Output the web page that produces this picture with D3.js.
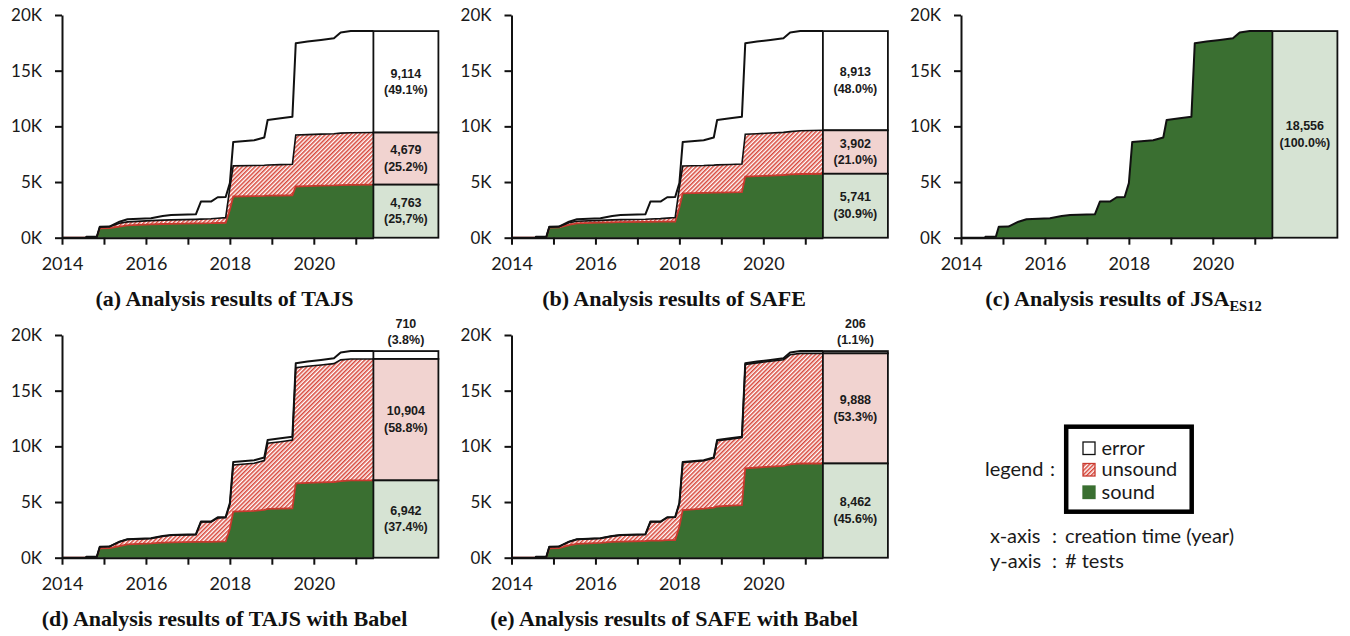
<!DOCTYPE html>
<html><head><meta charset="utf-8">
<script src="https://cdn.jsdelivr.net/npm/d3@7"></script>
<style>body{margin:0;background:#fff;} svg{display:block}</style>
</head><body><svg id="c" width="1350" height="636"></svg>
<script>
// ---- data ----
const dates = [2014.0,2014.57,2014.58,2014.83,2014.9,2015.13,2015.37,2015.56,2016.12,2016.4,2016.6,2017.19,2017.31,2017.55,2017.71,2017.9,2018.0,2018.08,2018.58,2018.82,2018.9,2019.21,2019.49,2019.57,2019.85,2020.17,2020.48,2020.64,2020.88,2021.42];
const total = [0,0,80,80,990,1000,1440,1650,1740,1950,2040,2100,3240,3240,3630,3650,4900,8600,8750,9000,10570,10720,10870,17460,17610,17760,17910,18420,18556,18556];

const soundTAJS   = [0,0,50,50,850,870,1000,1100,1200,1230,1250,1280,1290,1300,1320,1340,2500,3700,3730,3750,3770,3790,3800,4600,4640,4670,4700,4730,4750,4763];
const unsoundTAJS = [0,0,10,10,100,110,300,320,330,350,350,370,380,400,430,460,2000,2750,2750,2750,2760,2770,2790,4620,4620,4630,4640,4660,4670,4679];

const soundSAFE   = [0,0,50,50,900,920,1150,1280,1350,1380,1400,1420,1430,1440,1440,1450,2700,3990,4020,4040,4050,4070,4100,5480,5530,5580,5630,5680,5720,5741];
const unsoundSAFE = [0,0,10,10,50,60,200,200,210,220,220,240,250,270,320,370,1800,2450,2460,2480,2490,2500,2520,3810,3810,3820,3830,3850,3880,3902];

const soundJSA    = total.slice();
const unsoundJSA  = total.map(() => 0);

const soundTAJSBabel   = [0,0,50,50,850,860,1050,1200,1280,1350,1380,1420,1430,1430,1450,1460,2600,4130,4200,4300,4380,4410,4440,6680,6720,6760,6800,6880,6942,6942];
const unsoundTAJSBabel = [0,0,30,30,140,140,390,450,450,580,640,650,1770,1770,2120,2130,2200,4200,4280,4430,5900,6010,6130,10380,10470,10550,10630,10890,10904,10904];

const soundSAFEBabel   = [0,0,50,50,850,860,1100,1250,1340,1420,1450,1500,1540,1540,1580,1590,2800,4280,4400,4500,4600,4680,4730,8030,8100,8180,8250,8380,8462,8462];
const unsoundSAFEBabel = [0,0,30,30,140,140,340,400,400,520,580,590,1680,1680,2030,2040,2070,4270,4300,4440,5900,5960,6060,9330,9400,9460,9530,9840,9888,9888];

// percentage labels [error, unsound, sound] as printed
const pctTAJS = ["49.1%","25.2%","25,7%"];
const pctSAFE = ["48.0%","21.0%","30.9%"];
const pctJSA = ["","","100.0%"];
const pctTAJSBabel = ["3.8%","58.8%","37.4%"];
const pctSAFEBabel = ["1.1%","53.3%","45.6%"];

const yTicks = [0,5000,10000,15000,20000];
const yTickLabels = ["0K","5K","10K","15K","20K"];
const xTicks = [2014,2015,2016,2017,2018,2019,2020,2021];
const xTickLabels = ["2014","","2016","","2018","","2020",""];
const legendLabels = ["error","unsound","sound"];

// ---- layout ----
const panels = [
  {sound:soundTAJS, unsound:unsoundTAJS, pct:pctTAJS, ox:62, base:237.7, cap:["(a) Analysis results of TAJS"]},
  {sound:soundSAFE, unsound:unsoundSAFE, pct:pctSAFE, ox:511.5, base:237.7, cap:["(b) Analysis results of SAFE"]},
  {sound:soundJSA, unsound:unsoundJSA, pct:pctJSA, ox:961, base:237.7, cap:["(c) Analysis results of JSA","ES12"]},
  {sound:soundTAJSBabel, unsound:unsoundTAJSBabel, pct:pctTAJSBabel, ox:62, base:557.7, cap:["(d) Analysis results of TAJS with Babel"]},
  {sound:soundSAFEBabel, unsound:unsoundSAFEBabel, pct:pctSAFEBabel, ox:511.5, base:557.7, cap:["(e) Analysis results of SAFE with Babel"]}
];
const W = 311.4, BW = 65, H = 222.7;
const GREEN = "#3a6f31", LGREEN = "#d6e3d3", PINK = "#f1d3d0", RED = "#c8392e", HATCH = "#d8473b";

const svg = d3.select("#c");
const defs = svg.append("defs");
const pat = defs.append("pattern").attr("id","hatch").attr("patternUnits","userSpaceOnUse")
  .attr("width",3).attr("height",3).attr("patternTransform","rotate(45)");
pat.append("rect").attr("width",3).attr("height",3).attr("fill","#fff");
pat.append("line").attr("x1",0.75).attr("y1",0).attr("x2",0.75).attr("y2",3).attr("stroke",HATCH).attr("stroke-width",1.6);

const x = d3.scaleLinear().domain([2014, 2021.42]).range([0, W]);
const fmt = d3.format(",");

panels.forEach(p => {
  const g = svg.append("g").attr("transform", `translate(${p.ox},${p.base - H})`);
  const y = d3.scaleLinear().domain([0, 20000]).range([H, 0]);
  const rows = dates.map((d,i) => ({d, s:p.sound[i], u:p.sound[i]+p.unsound[i], t:total[i]}));

  g.append("path").datum(rows).attr("fill",GREEN)
    .attr("d", d3.area().x(r=>x(r.d)).y0(y(0)).y1(r=>y(r.s)));
  const hasUnsound = p.unsound.some(v => v > 0);
  if (hasUnsound) {
    g.append("path").datum(rows).attr("fill","url(#hatch)")
      .attr("d", d3.area().x(r=>x(r.d)).y0(r=>y(r.s)).y1(r=>y(r.u)));
    g.append("path").datum(rows).attr("fill","none").attr("stroke",RED).attr("stroke-width",1.8)
      .attr("d", d3.line().x(r=>x(r.d)).y(r=>y(r.s)));
    g.append("path").datum(rows).attr("fill","none").attr("stroke","#111").attr("stroke-width",1.6)
      .attr("d", d3.line().x(r=>x(r.d)).y(r=>y(r.u)));
  }
  g.append("path").datum(rows).attr("fill","none").attr("stroke","#111").attr("stroke-width",2)
    .attr("stroke-linejoin","round").attr("d", d3.line().x(r=>x(r.d)).y(r=>y(r.t)));

  // stacked bar of final counts
  const last = dates.length - 1;
  const sF = p.sound[last], uF = p.unsound[last], tF = total[last], eF = tF - sF - uF;
  const segs = [
    {v:eF, lo:sF+uF, hi:tF, fill:"#fff", pct:p.pct[0]},
    {v:uF, lo:sF, hi:sF+uF, fill:PINK, pct:p.pct[1]},
    {v:sF, lo:0, hi:sF, fill:LGREEN, pct:p.pct[2]}
  ];
  const bx = x(2021.42);
  segs.forEach(s => {
    if (s.v <= 0) return;
    g.append("rect").attr("x",bx).attr("y",y(s.hi)).attr("width",BW).attr("height",y(s.lo)-y(s.hi))
      .attr("fill",s.fill).attr("stroke","#111").attr("stroke-width",1.8);
  });
  segs.forEach(s => {
    if (s.v <= 0) return;
    const h = y(s.lo) - y(s.hi);
    let c1, c2;
    if (h >= 30) { const m = (y(s.lo)+y(s.hi))/2; c1 = m - 8.3; c2 = m + 8.3; }
    else { c2 = y(tF) - 10.6; c1 = c2 - 16.7; }
    [[fmt(s.v),c1],["("+s.pct+")",c2]].forEach(([t,cy]) => {
      g.append("text").attr("x",bx+BW/2).attr("y",cy).attr("dominant-baseline","central")
        .attr("text-anchor","middle").attr("font-family","'Liberation Sans',Arial,sans-serif")
        .attr("font-weight","bold").attr("font-size",12.5).attr("fill","#1a1a1a").text(t);
    });
  });

  // axes
  const ya = g.append("g").call(d3.axisLeft(y).tickValues(yTicks).tickFormat((d,i)=>yTickLabels[i])
    .tickSizeInner(7).tickSizeOuter(0).tickPadding(13));
  const xa = g.append("g").attr("transform",`translate(0,${H})`)
    .call(d3.axisBottom(x).tickValues(xTicks).tickFormat((d,i)=>xTickLabels[i])
    .tickSizeInner(7).tickSizeOuter(0).tickPadding(13));
  [ya, xa].forEach(a => {
    a.selectAll("path,line").attr("stroke","#111").attr("stroke-width",2);
    a.selectAll("text").attr("font-family","Lato,sans-serif").attr("fill","#1a1a1a");
  });
  ya.selectAll("text").attr("font-size",17);
  xa.selectAll("text").attr("font-size",18);

  // caption
  const cap = svg.append("text").attr("x",p.ox+162.5).attr("y",p.base+68.5).attr("text-anchor","middle")
    .attr("font-family","'Liberation Serif','DejaVu Serif',serif").attr("font-weight","bold")
    .attr("font-size",22).attr("fill","#111");
  cap.append("tspan").text(p.cap[0]);
  if (p.cap[1]) cap.append("tspan").attr("font-size",14.5).attr("dy",5).text(p.cap[1]);
});

// legend
const lg = svg.append("g").attr("font-family","Lato,sans-serif").attr("font-size",20).attr("fill","#1a1a1a");
lg.append("rect").attr("x",1066.2).attr("y",426.7).attr("width",125.5).attr("height",85)
  .attr("fill","none").attr("stroke","#000").attr("stroke-width",4.5);
const iconFill = ["#fff","url(#hatch)",GREEN];
const iconStroke = ["#111",RED,GREEN];
const iconY = [442,463.5,486];
legendLabels.forEach((l,i) => {
  lg.append("rect").attr("x",1083).attr("y",iconY[i]).attr("width",12).attr("height",12.5)
    .attr("fill",iconFill[i]).attr("stroke",iconStroke[i]).attr("stroke-width",1.3);
  lg.append("text").attr("x",1101.5).attr("y",iconY[i]+12.5).text(l);
});
lg.append("text").attr("x",985).attr("y",476).text("legend");
lg.append("text").attr("x",1050).attr("y",476).text(":");
lg.append("text").attr("x",990).attr("y",543).text("x-axis");
lg.append("text").attr("x",1052).attr("y",543).text(":");
lg.append("text").attr("x",1065).attr("y",543).text("creation time (year)");
lg.append("text").attr("x",990).attr("y",568).text("y-axis");
lg.append("text").attr("x",1052).attr("y",568).text(":");
lg.append("text").attr("x",1065).attr("y",568).text("# tests");
</script></body></html>
